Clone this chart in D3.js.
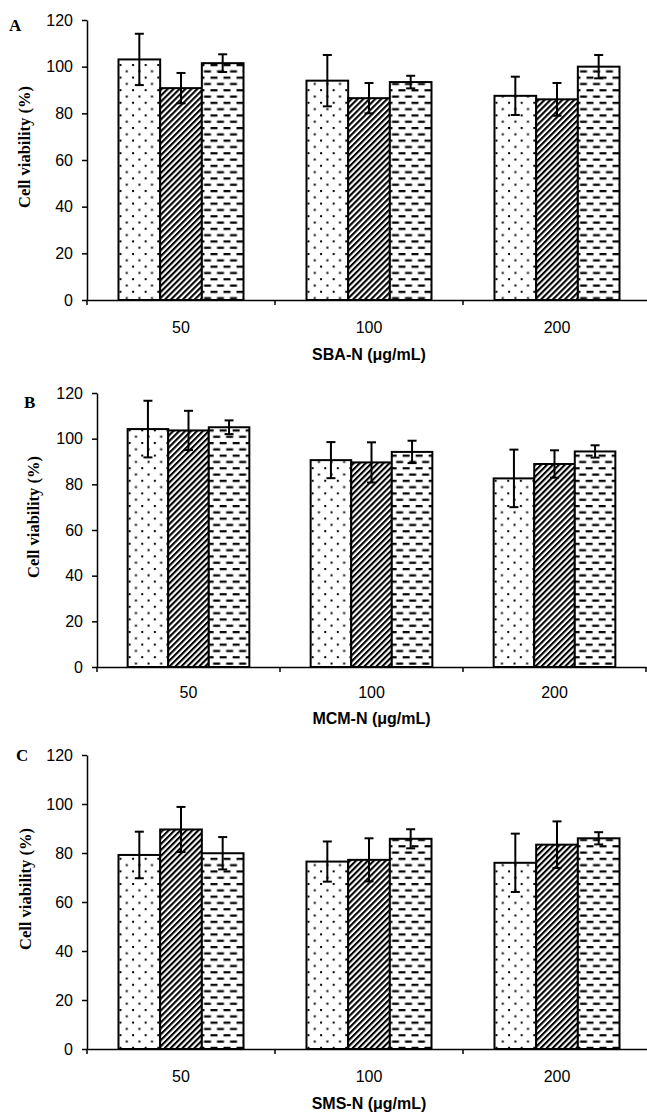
<!DOCTYPE html>
<html><head><meta charset="utf-8">
<script src="https://cdn.jsdelivr.net/npm/d3@7/dist/d3.min.js"></script>
<style>body{margin:0;background:#fff;} svg{display:block;}</style>
</head><body>
<script>
// ---- data ----
const categories = ["50", "100", "200"];
const seriesKeys = ["s1", "s2", "s3"];
const yTicks = [0, 20, 40, 60, 80, 100, 120];
const panelLetters = ["A", "B", "C"];
const xTitles = ["SBA-N (\u03bcg/mL)", "MCM-N (\u03bcg/mL)", "SMS-N (\u03bcg/mL)"];
const yTitle = "Cell viability (%)";

// values [category][series]
const valuesA = [[103.1, 90.8, 101.5], [94.0, 86.5, 93.4], [87.5, 86.0, 100.0]];
const errorsA = [[11.0, 6.5, 3.8], [11.0, 6.5, 2.7], [8.2, 7.0, 5.0]];
const valuesB = [[104.2, 103.6, 105.0], [90.6, 89.6, 94.2], [82.6, 88.9, 94.4]];
const errorsB = [[12.4, 8.6, 3.0], [7.9, 8.8, 4.9], [12.6, 6.0, 2.7]];
const valuesC = [[79.2, 89.6, 79.9], [76.5, 77.2, 85.8], [76.0, 83.4, 86.0]];
const errorsC = [[9.5, 9.2, 6.6], [8.2, 8.8, 3.9], [11.9, 9.5, 2.5]];

const W = 647, H = 1114;
const svg = d3.select("body").append("svg").attr("width", W).attr("height", H);
const defs = svg.append("defs");

// dotted pattern
const pDot = defs.append("pattern").attr("id", "pDot").attr("patternUnits", "userSpaceOnUse")
  .attr("width", 12.6).attr("height", 12.6);
pDot.append("rect").attr("width", 12.6).attr("height", 12.6).attr("fill", "#fff");
pDot.append("rect").attr("x", 1).attr("y", 1).attr("width", 2).attr("height", 2).attr("fill", "#000");
pDot.append("rect").attr("x", 7.3).attr("y", 7.3).attr("width", 2).attr("height", 2).attr("fill", "#000");

// diagonal hatch
const pHatch = defs.append("pattern").attr("id", "pHatch").attr("patternUnits", "userSpaceOnUse")
  .attr("width", 4.2).attr("height", 4.2).attr("patternTransform", "rotate(45)");
pHatch.append("rect").attr("width", 4.2).attr("height", 4.2).attr("fill", "#fff");
pHatch.append("rect").attr("x", 0).attr("y", 0).attr("width", 2.1).attr("height", 4.2).attr("fill", "#000");

// dashes
const pDash = defs.append("pattern").attr("id", "pDash").attr("patternUnits", "userSpaceOnUse")
  .attr("width", 13).attr("height", 12.6);
pDash.append("rect").attr("width", 13).attr("height", 12.6).attr("fill", "#fff");
pDash.append("rect").attr("x", 1).attr("y", 1).attr("width", 7).attr("height", 2.2).attr("fill", "#000");
pDash.append("rect").attr("x", 7.5).attr("y", 7.3).attr("width", 7).attr("height", 2.2).attr("fill", "#000");
pDash.append("rect").attr("x", -5.5).attr("y", 7.3).attr("width", 7).attr("height", 2.2).attr("fill", "#000");

const fills = ["url(#pDot)", "url(#pHatch)", "url(#pDash)"];

const SANS = "'Liberation Sans', Arial, sans-serif";
const SERIF = "'Liberation Serif', 'Times New Roman', serif";

const panels = [
  {vals: valuesA, errs: errorsA, x0: 87, band: 188, yTop: 20, y0: 300, letterX: 9, letterY: 31, yLabX: 26, tickOff: 33, titleOff: 60},
  {vals: valuesB, errs: errorsB, x0: 97, band: 183, yTop: 393, y0: 667, letterX: 24, letterY: 408, yLabX: 35, tickOff: 31, titleOff: 57},
  {vals: valuesC, errs: errorsC, x0: 87, band: 188, yTop: 755, y0: 1049, letterX: 16, letterY: 761, yLabX: 27, tickOff: 33, titleOff: 60}
];

panels.forEach((p, i) => {
  const g = svg.append("g");
  const x1 = p.x0 + p.band * categories.length;
  const x = d3.scaleBand().domain(categories).range([p.x0, x1]).paddingInner(0.335).paddingOuter(0.1675);
  const xs = d3.scaleBand().domain(seriesKeys).range([0, x.bandwidth()]).padding(0);
  const y = d3.scaleLinear().domain([0, 120]).range([p.y0, p.yTop]);

  // bars
  categories.forEach((c, ci) => {
    const cg = g.append("g").attr("transform", `translate(${x(c)},0)`);
    seriesKeys.forEach((s, si) => {
      const v = p.vals[ci][si];
      cg.append("rect").attr("x", xs(s)).attr("y", y(v)).attr("width", xs.bandwidth())
        .attr("height", y(0) - y(v)).attr("fill", fills[si]).attr("stroke", "#000").attr("stroke-width", 2);
    });
  });
  // error bars
  categories.forEach((c, ci) => {
    seriesKeys.forEach((s, si) => {
      const v = p.vals[ci][si], e = p.errs[ci][si];
      const cx = x(c) + xs(s) + xs.bandwidth() / 2;
      const eg = g.append("g").attr("stroke", "#000").attr("stroke-width", 2);
      eg.append("line").attr("x1", cx).attr("x2", cx).attr("y1", y(v - e)).attr("y2", y(v + e));
      eg.append("line").attr("x1", cx - 4.5).attr("x2", cx + 4.5).attr("y1", y(v + e)).attr("y2", y(v + e));
      eg.append("line").attr("x1", cx - 4.5).attr("x2", cx + 4.5).attr("y1", y(v - e)).attr("y2", y(v - e));
    });
  });

  // y axis
  const yAxis = d3.axisLeft(y).tickValues(yTicks).tickSize(5).tickPadding(9).tickSizeOuter(0);
  const ya = g.append("g").attr("transform", `translate(${p.x0},0)`).call(yAxis);
  ya.select(".domain").attr("stroke", "#000").attr("stroke-width", 1.5);
  ya.selectAll(".tick line").attr("stroke", "#000").attr("stroke-width", 1.5);
  ya.selectAll(".tick text").attr("font-family", SANS).attr("font-size", 16).attr("fill", "#000");

  // x axis
  const xAxis = d3.axisBottom(x).tickSize(0).tickPadding(p.tickOff - 11.4).tickSizeOuter(0);
  const xa = g.append("g").attr("transform", `translate(0,${p.y0})`).call(xAxis);
  xa.select(".domain").attr("stroke", "#000").attr("stroke-width", 1.5);
  xa.selectAll(".tick text").attr("font-family", SANS).attr("font-size", 16).attr("fill", "#000");
  // category boundary ticks
  const bounds = d3.range(categories.length + 1).map(k => p.x0 + k * x.step());
  g.selectAll(null).data(bounds).enter().append("line")
    .attr("x1", d => d).attr("x2", d => d).attr("y1", p.y0).attr("y2", p.y0 + 5)
    .attr("stroke", "#000").attr("stroke-width", 1.5);

  // x title
  g.append("text").attr("x", (p.x0 + x1) / 2).attr("y", p.y0 + p.titleOff).attr("text-anchor", "middle")
    .attr("font-family", SANS).attr("font-weight", "bold").attr("font-size", 16)
    .text(xTitles[i]);
  // y title
  g.append("text").attr("transform", `translate(${p.yLabX},${(p.y0 + p.yTop) / 2 - 13}) rotate(-90)`)
    .attr("text-anchor", "middle").attr("dominant-baseline", "middle")
    .attr("font-family", SERIF).attr("font-weight", "bold").attr("font-size", 16.5)
    .text(yTitle);
  // panel letter
  g.append("text").attr("x", p.letterX).attr("y", p.letterY)
    .attr("font-family", SERIF).attr("font-weight", "bold").attr("font-size", 17)
    .text(panelLetters[i]);
});
</script>
</body></html>
